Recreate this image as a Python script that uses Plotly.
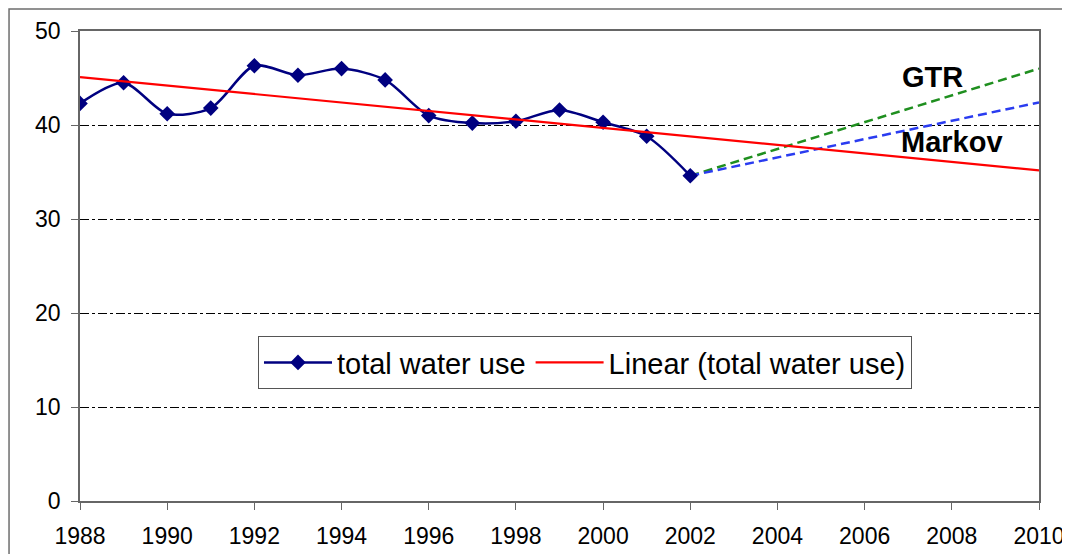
import numpy as np
import plotly.graph_objects as go

years = list(range(1988, 2003))
water_use = [42.3, 44.5, 41.2, 41.8, 46.3, 45.3, 46.0, 44.8, 41.0, 40.2, 40.4, 41.6, 40.3, 38.8, 34.6]

trend_years = [1988, 2010]
forecast_years = [2002, 2010]
gtr_values = [34.6, 46.0]
markov_values = [34.6, 42.4]

x_ticks = list(range(1988, 2011, 2))
y_ticks = [0, 10, 20, 30, 40, 50]

coef = np.polyfit(years, water_use, 1)
trend_values = list(np.polyval(coef, trend_years))

FONT = "Liberation Sans, Arial, sans-serif"

fig = go.Figure()
fig.add_trace(go.Scatter(
    x=forecast_years, y=gtr_values, mode="lines", showlegend=False,
    line=dict(color="#1f8f1f", width=2.5, dash="9px,5px"), name="GTR"))
fig.add_trace(go.Scatter(
    x=forecast_years, y=markov_values, mode="lines", showlegend=False,
    line=dict(color="#2a3cf0", width=2.5, dash="9px,5px"), name="Markov"))
fig.add_trace(go.Scatter(
    x=years, y=water_use, mode="lines+markers", name="total water use",
    line=dict(color="#000080", width=2.5, shape="spline", smoothing=0.8),
    marker=dict(symbol="diamond", size=12, color="#000080")))
fig.add_trace(go.Scatter(
    x=trend_years, y=trend_values, mode="lines", name="Linear (total water use)",
    line=dict(color="#ff0000", width=2.2), cliponaxis=False))

fig.add_annotation(x=2007.55, y=45.1, text="<b>GTR</b>", showarrow=False,
                   font=dict(family=FONT, size=29, color="black"))
fig.add_annotation(x=2008.0, y=38.2, text="<b>Markov</b>", showarrow=False,
                   font=dict(family=FONT, size=29, color="black"))

# outer chart frame
fig.add_shape(type="rect", xref="paper", yref="paper",
              x0=-0.074, x1=1.2, y0=-0.3, y1=1.0468,
              line=dict(color="#6e6e6e", width=1.5), layer="below")

fig.update_layout(
    width=1062, height=546,
    margin=dict(l=72, r=31, t=23, b=53, autoexpand=False),
    paper_bgcolor="white", plot_bgcolor="white",
    font=dict(family=FONT, size=23, color="black"),
    showlegend=True,
    legend=dict(orientation="h", x=0.1856, y=0.351, xanchor="left", yanchor="top",
                bgcolor="white", bordercolor="#555", borderwidth=1,
                font=dict(family=FONT, size=29, color="black"),
                itemwidth=68),
)
fig.update_xaxes(range=[1988, 2010], tickvals=x_ticks, ticktext=[str(v) for v in x_ticks],
                 automargin=False,
                 showgrid=False, zeroline=False, showline=True, linecolor="#666", linewidth=1.5,
                 mirror=True, ticks="outside", ticklen=7, tickcolor="#666",
                 ticklabelstandoff=7,
                 tickfont=dict(family=FONT, size=23, color="black"))
fig.update_yaxes(range=[0, 50], tickvals=y_ticks, automargin=False,
                 showgrid=True, gridcolor="black", gridwidth=1, griddash="dashdot",
                 zeroline=False, showline=True, linecolor="#666", linewidth=1.5,
                 mirror=True, ticks="outside", ticklen=7, tickcolor="#666",
                 ticklabelstandoff=6,
                 tickfont=dict(family=FONT, size=23, color="black"))

fig.write_html("out.html")
